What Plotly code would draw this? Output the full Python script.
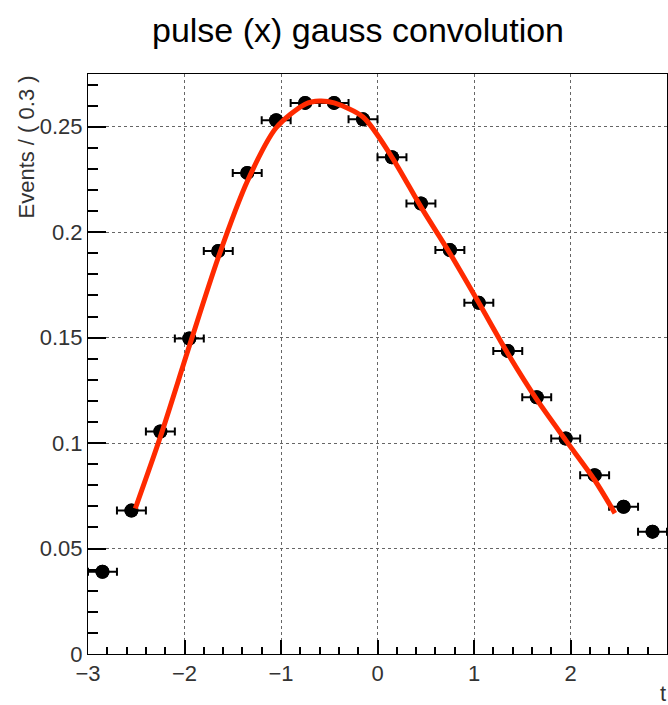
import plotly.graph_objects as go

# Data points (bin centers, bin width 0.3)
bin_centers = [-2.85, -2.55, -2.25, -1.95, -1.65, -1.35, -1.05, -0.75, -0.45, -0.15,
               0.15, 0.45, 0.75, 1.05, 1.35, 1.65, 1.95, 2.25, 2.55, 2.85]
events = [0.039, 0.068, 0.1055, 0.1496, 0.1911, 0.2281, 0.2531, 0.2613, 0.2613, 0.2535,
          0.2355, 0.2136, 0.1915, 0.1665, 0.1437, 0.1217, 0.1022, 0.0848, 0.0698, 0.058]
half_bin = [0.15] * len(bin_centers)

# Fitted curve samples
curve_t = [-2.51, -2.25, -1.95, -1.65, -1.35, -1.05, -0.75, -0.6, -0.45, -0.15,
           0.15, 0.45, 0.75, 1.05, 1.35, 1.65, 1.95, 2.25, 2.46]
curve_y = [0.069, 0.103, 0.146, 0.188, 0.224, 0.2495, 0.2607, 0.2622, 0.2613, 0.2546,
           0.2355, 0.212, 0.190, 0.1665, 0.1425, 0.1207, 0.1014, 0.0825, 0.0667]

x_range = [-3, 3]
y_range = [0, 0.275]

fig = go.Figure()

# plain markers on the main axes (which carry ticks, labels and frame)
fig.add_trace(go.Scatter(
    x=bin_centers, y=events, mode="markers",
    marker=dict(color="black", size=14),
    showlegend=False,
))
# error bars on the overlaying axes (same ranges, carry the dotted grid)
fig.add_trace(go.Scatter(
    x=bin_centers, y=events, mode="markers",
    marker=dict(color="black", size=14),
    error_x=dict(type="data", array=half_bin, color="black", thickness=2, width=4),
    showlegend=False, xaxis="x2", yaxis="y2",
))
fig.add_trace(go.Scatter(
    x=curve_t, y=curve_y, mode="lines",
    line=dict(color="#ff2a00", width=5, shape="spline", smoothing=0.8),
    showlegend=False, xaxis="x2", yaxis="y2",
))

tick_font = dict(family="Liberation Sans, Arial, sans-serif", size=22, color="#333")

fig.update_layout(
    width=668, height=705,
    margin=dict(l=88, r=1, t=74, b=51),
    plot_bgcolor="white",
    xaxis2=dict(
        range=x_range, overlaying="x", side="bottom", dtick=1,
        showgrid=True, gridcolor="#666", griddash="dot", gridwidth=1,
        showticklabels=False, ticks="", showline=False, zeroline=False,
    ),
    yaxis2=dict(
        range=y_range, overlaying="y", side="left", dtick=0.05,
        showgrid=True, gridcolor="#666", griddash="dot", gridwidth=1,
        showticklabels=False, ticks="", showline=False, zeroline=False,
    ),
)
fig.update_layout(
    xaxis=dict(range=x_range, ticks="inside", ticklen=14, tickcolor="black", tickwidth=2,
               showline=True, linecolor="black", mirror=True, showgrid=False,
               zerolinecolor="rgba(0,0,0,0)", tickfont=tick_font,
               minor=dict(dtick=0.2, ticklen=7, ticks="inside", tickcolor="black")),
    yaxis=dict(range=y_range, ticks="inside", ticklen=18, tickcolor="black", tickwidth=2,
               showline=True, linecolor="black", mirror=True, showgrid=False,
               zerolinecolor="rgba(0,0,0,0)", tickfont=tick_font,
               minor=dict(dtick=0.01, ticklen=10, ticks="inside", tickcolor="black")),
)

pw, ph = 668 - 1 - 88, 705 - 74 - 51
def px_to_paper(px, py):
    return (px - 88) / pw, (705 - 51 - py) / ph

title_font = dict(family="Liberation Sans, Arial, sans-serif", size=34, color="black")
label_font = dict(family="Liberation Sans, Arial, sans-serif", size=22, color="#333")

tx, ty = px_to_paper(358, 30)
fig.add_annotation(text="pulse (x) gauss convolution", x=tx, y=ty, xref="paper", yref="paper",
                   showarrow=False, xanchor="center", yanchor="middle", font=title_font)
ax, ay = px_to_paper(26, 74)
fig.add_annotation(text="Events / ( 0.3 )", x=ax, y=ay, xref="paper", yref="paper",
                   showarrow=False, textangle=-90, xanchor="center", yanchor="top",
                   font=label_font)
bx, by = px_to_paper(663, 693)
fig.add_annotation(text="t", x=bx, y=by, xref="paper", yref="paper",
                   showarrow=False, xanchor="center", yanchor="middle", font=label_font)

fig.write_html("out.html")
